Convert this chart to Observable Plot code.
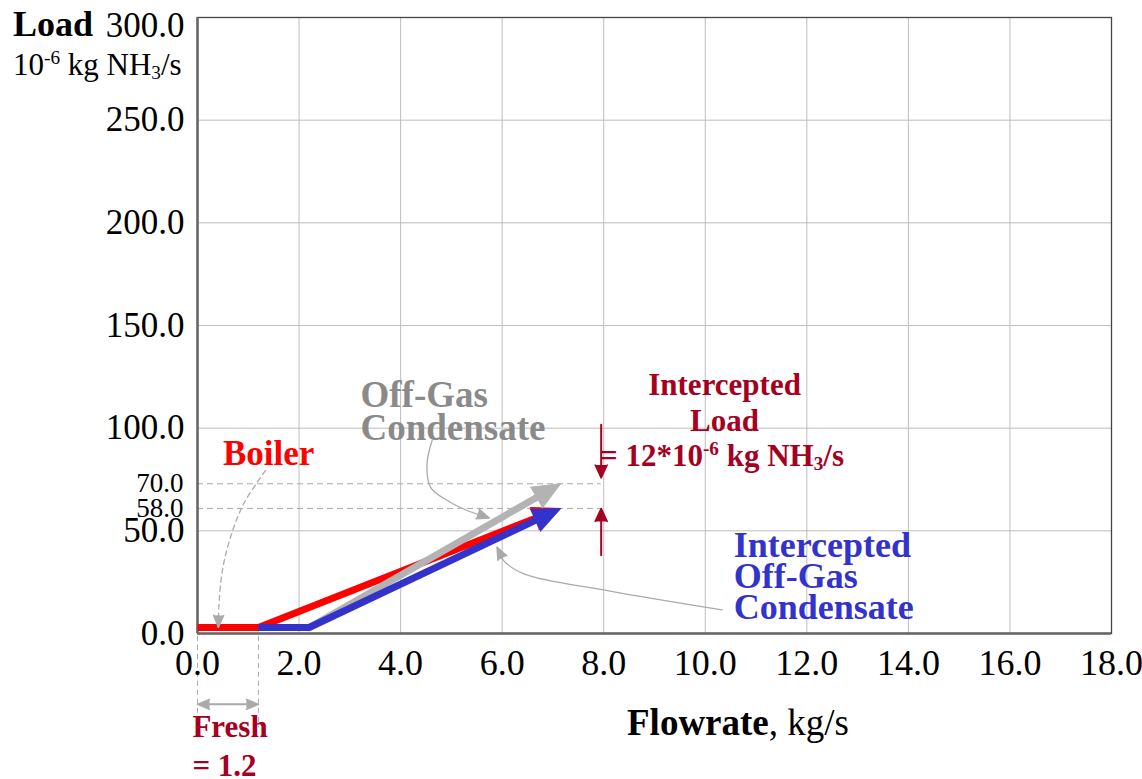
<!DOCTYPE html>
<html>
<head>
<meta charset="utf-8">
<script src="https://cdn.jsdelivr.net/npm/d3@7"></script>
<script src="https://cdn.jsdelivr.net/npm/@observablehq/plot@0.6"></script>
<style>
  body { margin: 0; background: #fff; }
  #chart { position: relative; width: 1142px; height: 779px; font-family: 'Liberation Serif', 'Times New Roman', serif; }
  #chart svg { display: block; }
  .lbl { position: absolute; white-space: nowrap; line-height: 1; }
  .lbl sup { font-size: 0.62em; vertical-align: 0; position: relative; top: -0.55em; }
  .lbl sub { font-size: 0.62em; vertical-align: 0; position: relative; top: 0.22em; }
</style>
</head>
<body>
<div id="chart"></div>
<script>
// Axis ticks
const xTicks = [0, 2, 4, 6, 8, 10, 12, 14, 16, 18];
const yTicks = [0, 50, 100, 150, 200, 250];
const yTopTick = [300];
const targetLoads = [58, 70];           // loads reached by the intercepted and off-gas streams

// Composite streams: flowrate (kg/s) vs ammonia load (10^-6 kg/s)
const freshFlow = 1.2;
const boilerPath = [{f: 0, l: 0}, {f: 1.2, l: 0}, {f: 7.15, l: 58}];
const offGasPath = [{f: 2.2, l: 0}, {f: 7.15, l: 70}];
const interceptedPath = [{f: 1.2, l: 0}, {f: 2.2, l: 0}, {f: 7.15, l: 58}];

// Intercepted-load markers
const markerFlow = 7.95;
const loadDown = [98.8, 72.8];
const loadUp = [35.2, 58];

// Call-out leader curves
const boilerLeader = [{f: 1.34, l: 79.4}, {f: 0.91, l: 63.2}, {f: 0.65, l: 46.9}, {f: 0.49, l: 30.7}, {f: 0.42, l: 12.8}, {f: 0.41, l: 3.0}];
const offGasLeader = [{f: 4.62, l: 94.0}, {f: 4.52, l: 82.7}, {f: 4.59, l: 71.2}, {f: 4.92, l: 64.8}, {f: 5.31, l: 59.9}, {f: 5.74, l: 56.3}];
const interceptedLeader = [{f: 10.33, l: 11.5}, {f: 8.07, l: 20.9}, {f: 6.43, l: 29.0}, {f: 6.03, l: 35.5}, {f: 5.90, l: 42.0}];
const freshSpan = [{f: 0, l: -34.5}, {f: freshFlow, l: -34.5}];

// Text labels
const boilerLabel = [{f: 1.40, l: 87.7, t: "Boiler"}];
const offGasLabel = [{f: 3.21, l: 107.4, t: "Off-Gas\nCondensate"}];
const interceptedLoadLabel = [{f: 10.38, l: 113, t: "Intercepted\nLoad"}];
const interceptedLabel = [{f: 10.56, l: 27.1, t: "Intercepted\nOff-Gas\nCondensate"}];
const freshLabel = [{f: -0.1, l: -54, t: `Fresh\n= ${freshFlow}`}];

const RED = "#ff0000", BLUE = "#3333cc", GREY = "#b3b3b3", GREY_TEXT = "#8a8a8a";
const DARK_RED = "#a50021", LEADER = "#aaaaaa", GRID = "#bdbdbd";
const LIFT = -6; // streams are drawn just above the axis line
const W = 1142, H = 779;
const layout = {width: W, height: H, marginTop: 17, marginRight: 31, marginBottom: 146, marginLeft: 197,
  x: {domain: [0, 18], label: null}, y: {domain: [0, 300], label: null}};

// Screen heading of a segment, used to orient the arrowheads
const probe = Plot.plot({...layout, marks: [Plot.ruleX([0])]});
const sx = probe.scale("x"), sy = probe.scale("y");
const fx = d3.scaleLinear(sx.domain, sx.range), fy = d3.scaleLinear(sy.domain, sy.range);
function heading(a, b) {
  const dx = fx(b.f) - fx(a.f), dy = fy(b.l) - fy(a.l);
  return Math.atan2(dx, -dy) * 180 / Math.PI;
}

function stream(path, color) {
  const marks = [];
  const flat = path.slice(0, -1);
  if (flat.length > 1) marks.push(Plot.line(flat, {x: "f", y: "l", stroke: color, strokeWidth: 7, strokeLinecap: "butt", dy: LIFT}));
  const a = path[path.length - 2], b = path[path.length - 1];
  marks.push(Plot.arrow([{a, b}], {x1: d => d.a.f, y1: d => d.a.l, x2: d => d.b.f, y2: d => d.b.l,
    stroke: color, strokeWidth: 7, headLength: 0, insetEnd: 14, strokeLinecap: "round", dy: LIFT}));
  marks.push(Plot.vector([b], {x: "f", y: "l", rotate: heading(a, b), length: 28, r: 12, shape: "spike", anchor: "end",
    fill: color, stroke: color, strokeWidth: 1, dy: LIFT}));
  return marks;
}

function leader(pts, dashed) {
  const a = pts[pts.length - 2], b = pts[pts.length - 1];
  const opts = {x: "f", y: "l", curve: "catmull-rom", stroke: LEADER, strokeWidth: 1.3};
  if (dashed) opts.strokeDasharray = "5,4";
  return [
    Plot.line(pts, opts),
    Plot.vector([b], {x: "f", y: "l", rotate: heading(a, b), length: 12, r: 5, shape: "spike", anchor: "end", fill: LEADER, stroke: LEADER})
  ];
}

function vArrow(ys, color) {
  const a = {f: markerFlow, l: ys[0]}, b = {f: markerFlow, l: ys[1]};
  return [
    Plot.arrow([{a, b}], {x1: d => d.a.f, y1: d => d.a.l, x2: d => d.b.f, y2: d => d.b.l, stroke: color, strokeWidth: 2, headLength: 0, insetEnd: 8, dy: LIFT}),
    Plot.vector([b], {x: "f", y: "l", rotate: heading(a, b), length: 13, r: 6, shape: "spike", anchor: "end", fill: color, stroke: color, dy: LIFT})
  ];
}

const fmt = d => d.toFixed(1);

const chart = Plot.plot({
  ...layout,
  style: {fontFamily: "'Liberation Serif', 'Times New Roman', serif", background: "white", color: "black"},
  marks: [
    Plot.gridX({ticks: xTicks, stroke: GRID, strokeOpacity: 1, strokeWidth: 1}),
    Plot.gridY({ticks: [...yTicks, ...yTopTick], stroke: GRID, strokeOpacity: 1, strokeWidth: 1}),
    Plot.ruleY(targetLoads, {x1: 0, x2: markerFlow, stroke: LEADER, strokeWidth: 1, strokeDasharray: "6,4", dy: LIFT}),
    Plot.ruleX([0, freshFlow], {y1: 3, y2: -46, stroke: LEADER, strokeWidth: 1, strokeDasharray: "5,4"}),
    Plot.frame({stroke: "#444", strokeWidth: 1.3}),
    Plot.ruleX([0], {stroke: "#666", strokeWidth: 2.5}),
    Plot.ruleY([0], {stroke: "#666", strokeWidth: 2.5}),
    Plot.axisX({ticks: xTicks, tickSize: 0, tickPadding: 16, fontSize: 36, tickFormat: fmt}),
    Plot.axisY({ticks: yTicks, tickSize: 0, tickPadding: 13, fontSize: 35, tickFormat: fmt}),
    Plot.axisY({ticks: yTopTick, tickSize: 0, tickPadding: 13, fontSize: 35, tickFormat: fmt, dy: 8}),
    Plot.axisY({ticks: targetLoads, tickSize: 0, tickPadding: 14, fontSize: 27, tickFormat: fmt, dy: LIFT}),
    ...stream(boilerPath, RED),
    ...stream(offGasPath, GREY),
    ...stream(interceptedPath, BLUE),
    ...leader(boilerLeader, true),
    ...leader(offGasLeader, false),
    ...leader(interceptedLeader, false),
    ...vArrow(loadDown, DARK_RED),
    ...vArrow(loadUp, DARK_RED),
    Plot.arrow([{a: freshSpan[0], b: freshSpan[1]}], {x1: d => d.a.f, y1: d => d.a.l, x2: d => d.b.f, y2: d => d.b.l,
      stroke: LEADER, strokeWidth: 2, headLength: 0, insetStart: 8, insetEnd: 8}),
    Plot.vector([freshSpan[1]], {x: "f", y: "l", rotate: heading(freshSpan[0], freshSpan[1]), length: 12, r: 5, shape: "spike", anchor: "end", fill: LEADER, stroke: LEADER}),
    Plot.vector([freshSpan[0]], {x: "f", y: "l", rotate: heading(freshSpan[1], freshSpan[0]), length: 12, r: 5, shape: "spike", anchor: "end", fill: LEADER, stroke: LEADER}),
    Plot.text(boilerLabel, {x: "f", y: "l", text: "t", fill: RED, fontSize: 35, fontWeight: "bold", textAnchor: "middle"}),
    Plot.text(offGasLabel, {x: "f", y: "l", text: "t", fill: GREY_TEXT, fontSize: 37, fontWeight: "bold", textAnchor: "start", lineHeight: 0.88}),
    Plot.text(interceptedLoadLabel, {x: "f", y: "l", text: "t", fill: DARK_RED, fontSize: 31, fontWeight: "bold", textAnchor: "middle", lineHeight: 1.16}),
    Plot.text(interceptedLabel, {x: "f", y: "l", text: "t", fill: BLUE, fontSize: 36, fontWeight: "bold", textAnchor: "start", lineHeight: 0.86}),
    Plot.text(freshLabel, {x: "f", y: "l", text: "t", fill: DARK_RED, fontSize: 31, fontWeight: "bold", textAnchor: "start", lineHeight: 1.24})
  ]
});

const root = document.getElementById("chart");
root.appendChild(chart);

// Labels with super/subscripts
const htmlLabels = [
  {left: 13, top: 6, size: 36, color: "black", html: "<b>Load</b>"},
  {left: 13, top: 49, size: 31, color: "black", html: "10<sup>-6</sup> kg NH<sub>3</sub>/s"},
  {left: 627, top: 704, size: 37, color: "black", html: "<b>Flowrate</b>, kg/s"},
  {left: 600, top: 440, size: 31, color: DARK_RED, html: `<b>= ${targetLoads[1] - targetLoads[0]}*10<sup>-6</sup> kg NH<sub>3</sub>/s</b>`}
];
for (const d of htmlLabels) {
  const el = document.createElement("div");
  el.className = "lbl";
  el.style.left = d.left + "px";
  el.style.top = d.top + "px";
  el.style.fontSize = d.size + "px";
  el.style.color = d.color;
  el.innerHTML = d.html;
  root.appendChild(el);
}
</script>
</body>
</html>
